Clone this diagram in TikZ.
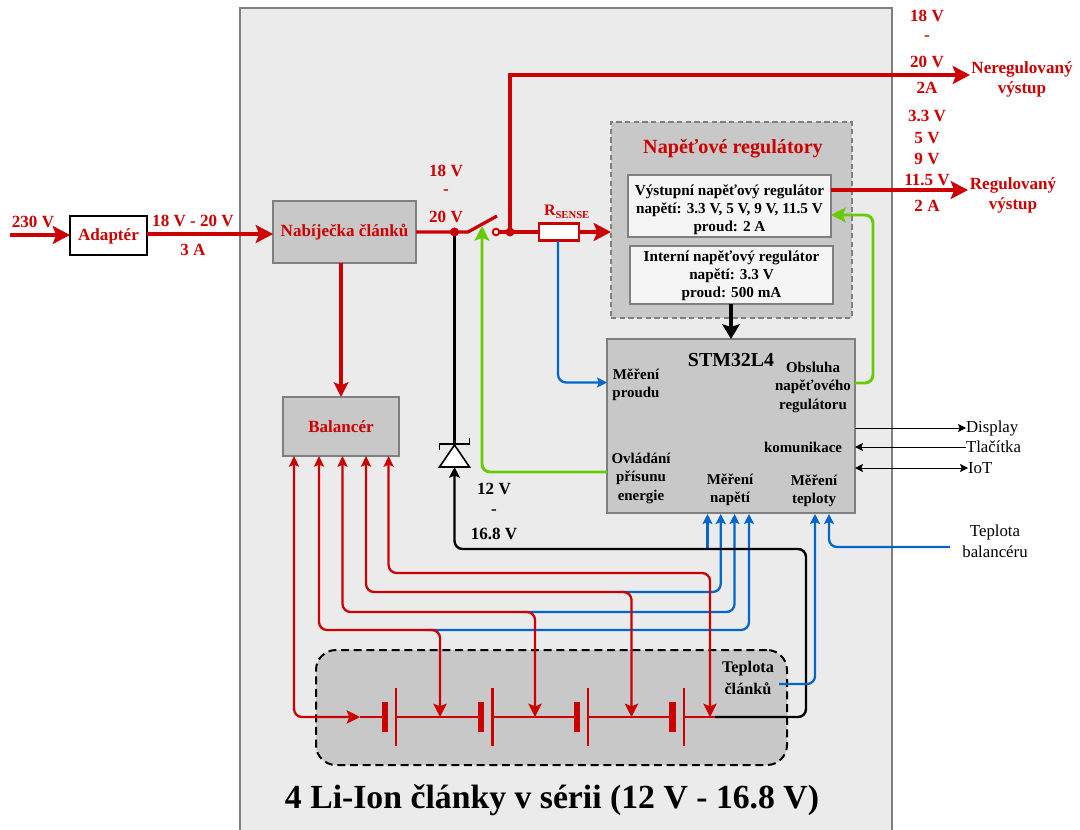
\documentclass[tikz,border=0pt]{standalone}
\usepackage{fontspec}
\setmainfont{Liberation Serif}
\usetikzlibrary{arrows.meta}
\definecolor{rd}{HTML}{CC0000}
\definecolor{gn}{HTML}{66CC00}
\definecolor{bl}{HTML}{0066CC}
\definecolor{bg}{HTML}{EBEBEB}
\definecolor{gy}{HTML}{C8C8C8}
\definecolor{ln}{HTML}{7F7F7F}
\tikzset{
  x=0.75pt,y=-0.75pt,
  every node/.style={font=\bfseries\fontsize{12.8pt}{15pt}\selectfont,align=center,inner sep=0pt,outer sep=0pt},
  lbl/.style={text=rd},
  blk/.style={text=black},
  stmtxt/.style={text=black,font=\bfseries\fontsize{11.2pt}{13.9pt}\selectfont},
  regtxt/.style={text=black,font=\bfseries\fontsize{11.4pt}{13.5pt}\selectfont},
  plain/.style={text=black,font=\fontsize{12.6pt}{15.5pt}\selectfont},
  greybox/.style={draw=ln,fill=gy,line width=0.9pt},
  whitebox/.style={draw=ln,fill=white!96!black,line width=0.9pt},
  bigtip/.style={-{Stealth[length=13pt,width=13.5pt,inset=2.7pt]}},
  midtip/.style={-{Stealth[length=11pt,width=11pt,inset=2.2pt]}},
  bluetip/.style={-{Stealth[length=7.5pt,width=7.5pt,inset=1.5pt]}},
  redwire/.style={draw=rd,line width=2.4pt},
  redthin/.style={draw=rd,line width=1.7pt,rounded corners=6pt},
  bluewire/.style={draw=bl,line width=1.7pt,rounded corners=6pt},
  blackwire/.style={draw=black,line width=1.8pt,rounded corners=6pt},
  greenwire/.style={draw=gn,line width=2.2pt,rounded corners=6pt},
  thinwire/.style={draw=black,line width=0.6pt},
}
\begin{document}
\begin{tikzpicture}
\useasboundingbox (0,0) rectangle (1080,830);
\fill[bg] (240,8) rectangle (892,830);
\draw[ln,line width=0.9pt] (240,830) -- (240,8) -- (892,8) -- (892,830);

% boxes
\node[draw=black,fill=white,line width=0.8pt,minimum width=57.75pt,minimum height=29.25pt] (adapter) at (108.5,235.5) {};
\node[lbl] (adaptert) at (108.5,236) {Adaptér};
\node[greybox,minimum width=107.25pt,minimum height=46.5pt,lbl] (charger) at (344.5,232) {Nabíječka článků};
\node[greybox,minimum width=87pt,minimum height=44.25pt,lbl] (balancer) at (341,426.5) {Balancér};
\node[draw=ln,fill=gy,line width=1pt,minimum width=180.75pt,minimum height=147pt,dash pattern=on 4pt off 2.5pt] (regs) at (731.5,220) {};
\node[lbl,font=\bfseries\fontsize{15.1pt}{18pt}\selectfont] (regtitle) at (733,149) {Napěťové regulátory};
\node[whitebox,minimum width=152.25pt,minimum height=46.5pt] (vyst) at (729.5,206) {};
\node[regtxt] (vystt) at (729.5,210) {Výstupní napěťový regulátor\\napětí: 3.3 V, 5 V, 9 V, 11.5 V\\proud: 2 A};
\node[whitebox,minimum width=152.25pt,minimum height=43.5pt] (intr) at (731.5,275) {};
\node[regtxt] (intrt) at (731.5,276) {Interní napěťový regulátor\\napětí: 3.3 V\\proud: 500 mA};
\node[greybox,minimum width=186pt,minimum height=130.5pt] (stm) at (731,426) {};
\node[blk,font=\bfseries\fontsize{14.9pt}{18pt}\selectfont] (stmt) at (731,360) {STM32L4};
\node[stmtxt] (mp) at (636,385) {Měření\\proudu};
\node[stmtxt] (ob) at (813,387) {Obsluha\\napěťového\\regulátoru};
\node[stmtxt] (kom) at (803,447) {komunikace};
\node[stmtxt] (ov) at (641,478) {Ovládání\\přísunu\\energie};
\node[stmtxt] (mn) at (730,490) {Měření\\napětí};
\node[stmtxt] (mt) at (814,491) {Měření\\teploty};

% battery pack
\node[draw=black,fill=gy,line width=1.5pt,rounded corners=15pt,dash pattern=on 6pt off 3.5pt,minimum width=353.25pt,minimum height=86.25pt] (pack) at (551.5,707.5) {};
\node[blk,font=\bfseries\fontsize{12.2pt}{16pt}\selectfont] (tc) at (748,678) {Teplota\\článků};

% battery cells
\foreach \t/\n/\i in {385/396/1,481/492.5/2,577/588/3,672.5/684/4}{
  \fill[rd] (\t-3.2,702) rectangle (\t+3.2,732);
  \draw[rd,line width=1.7pt] (\n,688) -- (\n,746);
  \coordinate (th\i) at (\t,717);
  \coordinate (tn\i) at (\n,717);
}
\coordinate (j0) at (360,717);
\coordinate (j1) at (440,717);
\coordinate (j2) at (535,717);
\coordinate (j3) at (631.5,717);
\coordinate (j4) at (710,717);
\coordinate (batend) at (727,717);
\coordinate (batneg) at (715,717);
\draw[rd,line width=1.6pt] (j0) -- (th1);
\draw[rd,line width=1.6pt] (tn1) -- (th2);
\draw[rd,line width=1.6pt] (tn2) -- (th3);
\draw[rd,line width=1.6pt] (tn3) -- (th4);
\draw[rd,line width=1.6pt] (tn4) -- (batend);

% top wires
\node[lbl] (v230) at (33,222) {230 V};
\coordinate (in) at (10,235);
\draw[redwire,bigtip] (in) -- (adapter.west |- in);
\coordinate (a1) at (147,234);
\draw[redwire,bigtip] (a1) -- (charger.west |- a1);
\node[lbl] (v18a) at (193,221) {18 V - 20 V};
\node[lbl] (a3) at (193,250) {3 A};
\draw[redwire,midtip] (charger.south -| balancer.north) -- (balancer.north);

\coordinate (dot1) at (454.5,232);
\coordinate (sw1) at (468,232);
\coordinate (sw2) at (497,216);
\coordinate (dot2) at (510,232);
\node[circle,draw=rd,fill=bg,line width=1.4pt,minimum size=5pt] (contact) at (496,232) {};
\node[draw=rd,fill=white,line width=2pt,minimum width=30pt,minimum height=13pt] (rs) at (559,232) {};
\draw[redwire] (charger.east |- dot1) -- (sw1) -- (sw2);
\draw[redwire] (contact.east) -- (rs.west);
\draw[redwire,bigtip] (rs.east) -- (regs.west |- rs.east);
\node[lbl] (v18b) at (446,171) {18 V};
\node[lbl] (v18c) at (446,192) {-};
\node[lbl] (v18d) at (446,217) {20 V};
\node[lbl,font=\bfseries\fontsize{12pt}{14pt}\selectfont] (rsl) at (567,212) {R\textsubscript{SENSE}};

\coordinate (nereg) at (970,75);
\draw[redwire,bigtip] (dot2) -- (510,75) -- (nereg);
\node[lbl] (neregt) at (1022,79) {Neregulovaný\\výstup};
\node[lbl] (n1) at (927,16) {18 V};
\node[lbl] (n2) at (927,38) {-};
\node[lbl] (n3) at (927,62) {20 V};
\node[lbl] (n4) at (927,88) {2A};

\coordinate (reg) at (968,190);
\draw[redwire,bigtip] (vyst.east |- reg) -- (reg);
\node[lbl] (regt) at (1013,195) {Regulovaný\\výstup};
\node[lbl] (r1) at (927,116) {3.3 V};
\node[lbl] (r2) at (927,138) {5 V};
\node[lbl] (r3) at (927,159) {9 V};
\node[lbl] (r4) at (927,180) {11.5 V};
\node[lbl] (r5) at (927,206) {2 A};

% internal regulator to MCU
\draw[black,line width=3pt,-{Stealth[length=11pt,width=13pt,inset=2pt]}] (stm.north |- intr.south) -- (stm.north);

% green
\coordinate (gsw) at (482,226);
\draw[greenwire,midtip] (stm.west |- 0,472) -- (482,472) -- (gsw);
\draw[greenwire,midtip] (stm.east |- 0,383) -- (873,383) -- (873,215) -- (vyst.east |- 0,215);

% sense
\coordinate (mpin) at (607,382.5);
\draw[bluewire,bluetip] (558,241) -- (558,382.5) -- (mpin);

% diode
\coordinate (dk) at (454.5,445);
\coordinate (da) at (454.5,467);
\draw[black,line width=1.8pt] (dot1) -- (dk);
\draw[black,fill=white,line width=1.2pt] (dk) -- (469.5,467) -- (439.5,467) -- cycle;
\draw[black,line width=1.2pt] (439.5,450) -- (439.5,444) -- (469.5,444) -- (469.5,438);
\fill[rd] (dot1) circle (4.5);
\fill[rd] (dot2) circle (4.5);
\node[blk] (d1) at (494,489) {12 V};
\node[blk] (d2) at (494,512) {-};
\node[blk] (d3) at (494,534) {16.8 V};

% voltage sense wires (blue first, then black, red on top)
\draw[bluewire,bluetip] (425,630) -- (749,630) -- (749,514);
\draw[bluewire,bluetip] (522,612) -- (734.5,612) -- (734.5,514);
\draw[bluewire,bluetip] (618,592) -- (720.7,592) -- (720.7,514);
\draw[bluewire,bluetip] (707.5,549) -- (707.5,514);
\draw[blackwire,-{Stealth[length=8pt,width=8pt,inset=1.6pt]}] (batneg) -- (806,717) -- (806,549) -- (454.5,549) -- (da);

% balancer wires
\coordinate (b1) at (294,456);
\coordinate (b2) at (319,456);
\coordinate (b3) at (342.5,456);
\coordinate (b4) at (366,456);
\coordinate (b5) at (388.6,456);
\tikzset{dbl/.style={{Stealth[length=8pt,width=7.5pt,inset=1.5pt]}-{Stealth[length=10pt,width=10pt,inset=2pt]}}}
\draw[redthin,dbl] (b1) -- (294,717) -- (j0);
\draw[redthin,dbl] (b2) -- (319,630) -- (440,630) -- (j1);
\draw[redthin,dbl] (b3) -- (342.5,612) -- (535,612) -- (j2);
\draw[redthin,dbl] (b4) -- (366,592) -- (631.5,592) -- (j3);
\draw[redthin,dbl] (b5) -- (388.6,573) -- (710,573) -- (j4);

% temperature
\coordinate (tin) at (779,684);
\draw[bluewire,bluetip] (tin) -- (815,684) -- (815,514);
\coordinate (tbal) at (950,547);
\draw[bluewire,bluetip] (tbal) -- (829,547) -- (829,514);
\node[plain] (tbt) at (995,541) {Teplota\\balancéru};

% comms
\node[plain,anchor=west] (disp) at (966,428) {Display};
\node[plain,anchor=west] (tl) at (966,447) {Tlačítka};
\node[plain,anchor=west] (iot) at (968,468) {IoT};
\draw[thinwire,-{Stealth[length=6pt,width=6pt,inset=1.2pt]}] (stm.east |- disp) -- (disp.west);
\draw[thinwire,-{Stealth[length=6pt,width=6pt,inset=1.2pt]}] (tl.west) -- (stm.east |- tl);
\draw[thinwire,{Stealth[length=6pt,width=6pt,inset=1.2pt]}-{Stealth[length=6pt,width=6pt,inset=1.2pt]}] (stm.east |- iot) -- (iot.west);

\node[blk,font=\bfseries\fontsize{25.3pt}{29pt}\selectfont] (title) at (552,800) {4 Li-Ion články v sérii (12 V - 16.8 V)};
\end{tikzpicture}
\end{document}
